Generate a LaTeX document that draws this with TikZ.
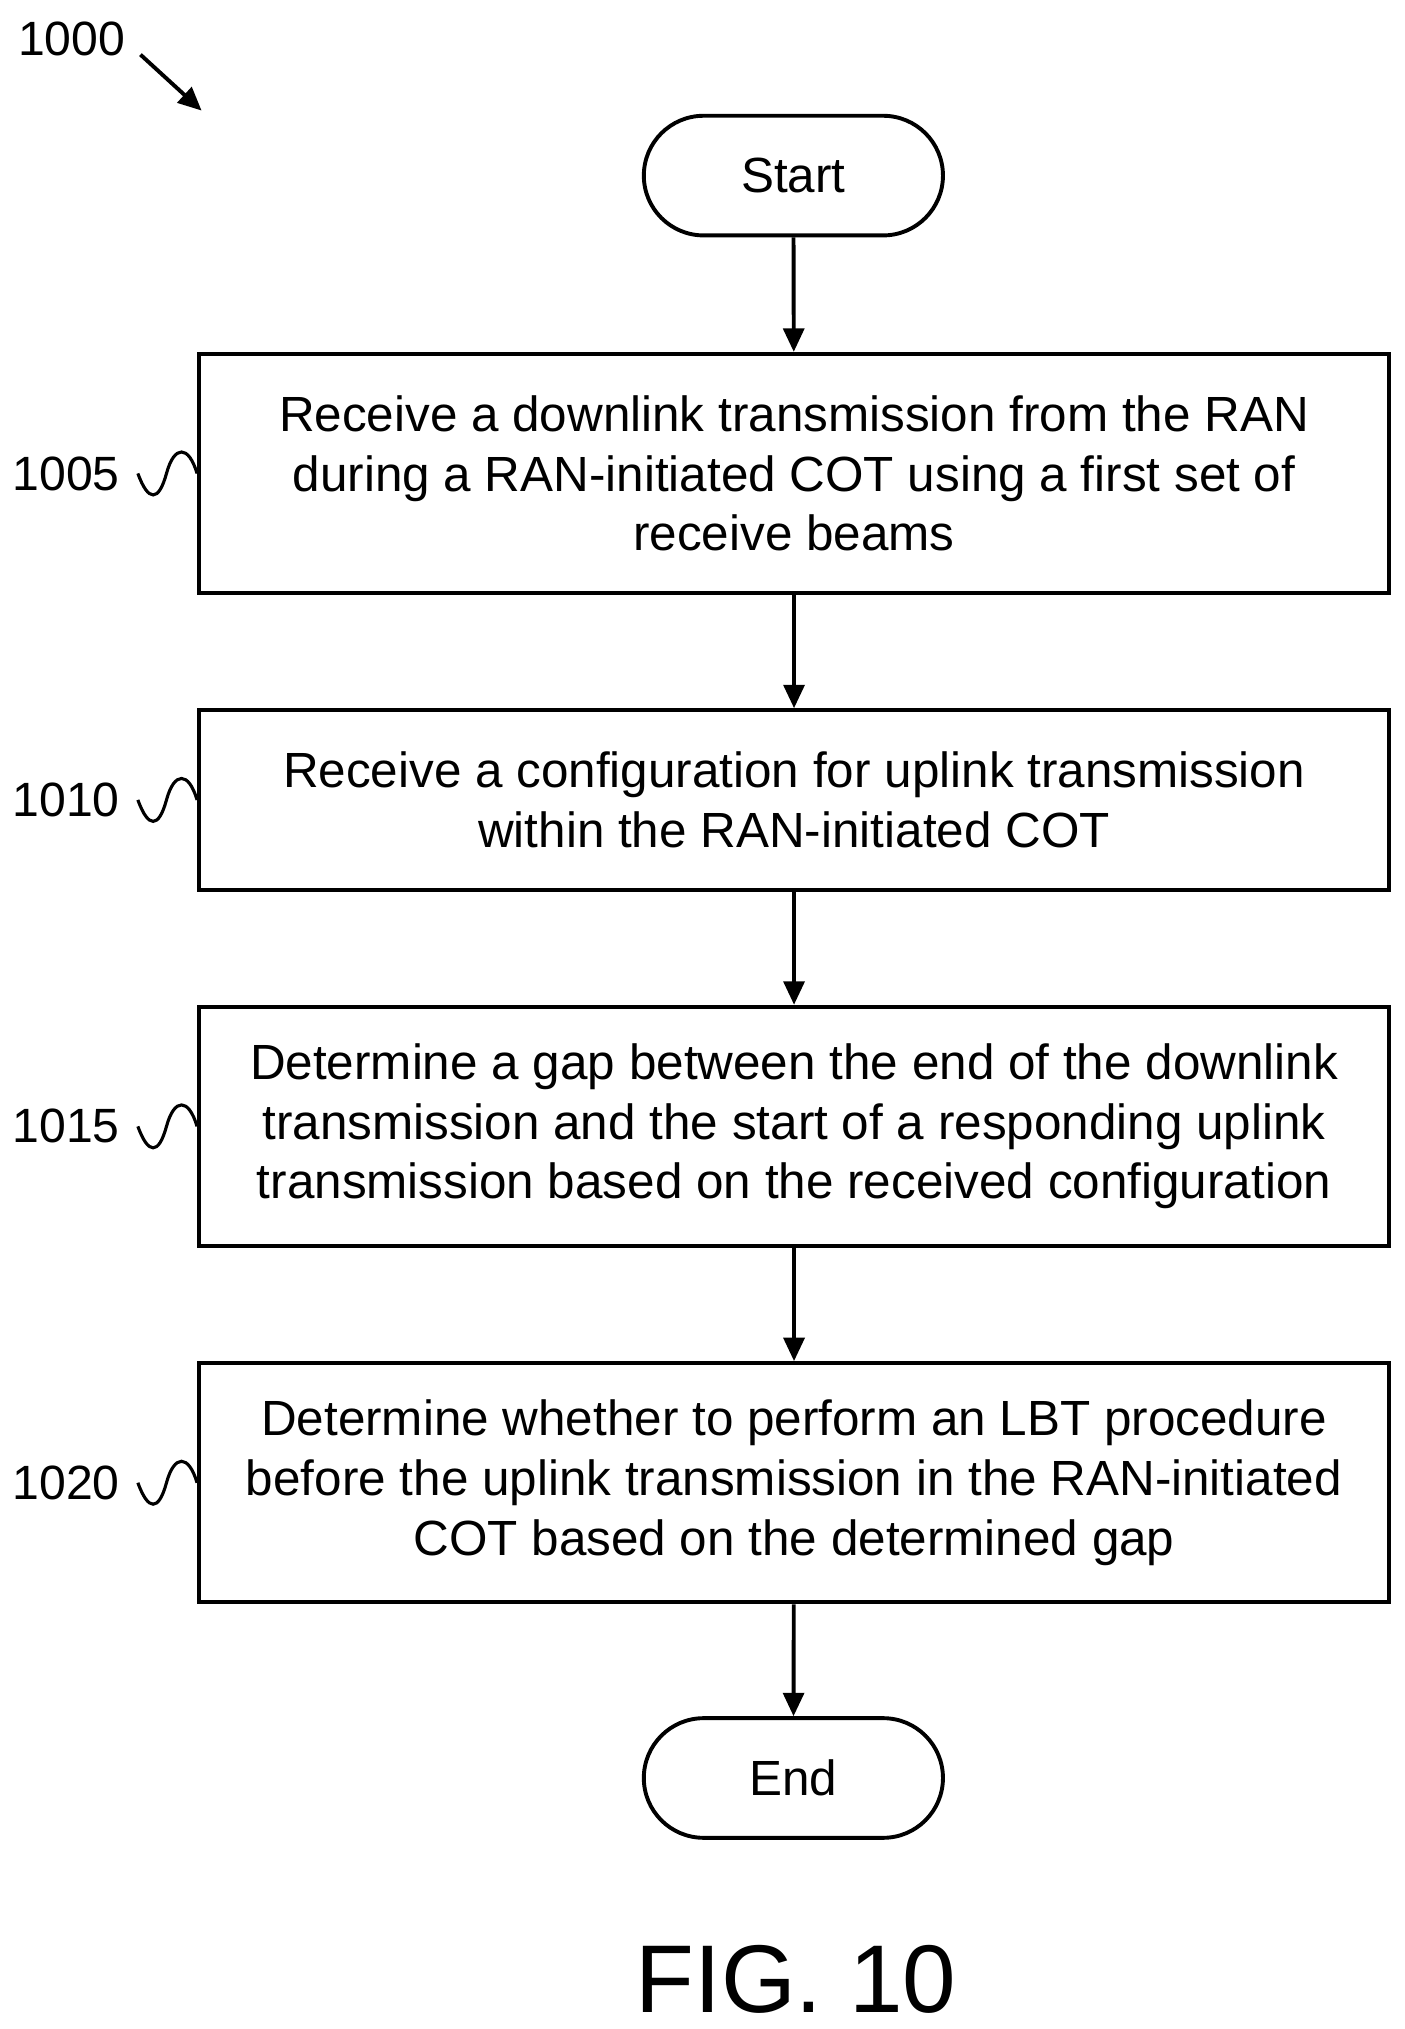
\documentclass[tikz,border=0pt]{standalone}
\usepackage{fontspec}
\setmainfont{Liberation Sans}
\usetikzlibrary{arrows.meta}
\begin{document}
\begin{tikzpicture}[x=0.5pt,y=-0.5pt,
  box/.style={draw,line width=1.5pt,minimum width=457.5pt,align=center,font=\fontsize{19}{23}\selectfont,inner sep=0pt},
  term/.style={draw,line width=1.5pt,rounded corners=23pt,minimum width=115pt,minimum height=46pt,font=\fontsize{19}{20}\selectfont},
  arr/.style={line width=1.5pt,-{Triangle[length=9pt,width=8pt]}},
  lab/.style={font=\fontsize{18.5}{20}\selectfont},
  sq/.style={line width=1.2pt}]
\useasboundingbox (0,0) rectangle (1080,1560);
\node[term] (start) at (610,135) {Start};
\node[box,minimum height=92pt] (b1) at (610.5,364) {Receive a downlink transmission from the RAN\\during a RAN-initiated COT using a first set of\\receive beams};
\node[box,minimum height=69pt] (b2) at (610.5,615) {Receive a configuration for uplink transmission\\within the RAN-initiated COT};
\node[box,minimum height=92pt] (b3) at (610.5,866) {Determine a gap between the end of the downlink\\transmission and the start of a responding uplink\\transmission based on the received configuration};
\node[box,minimum height=92pt] (b4) at (610.5,1140) {Determine whether to perform an LBT procedure\\before the uplink transmission in the RAN-initiated\\COT based on the determined gap};
\node[term] (end) at (610,1367) {End};
\draw[arr] (start) -- (b1);
\draw[arr] (b1) -- (b2);
\draw[arr] (b2) -- (b3);
\draw[arr] (b3) -- (b4);
\draw[arr] (b4) -- (end);
\node[font=\fontsize{37}{40}\selectfont] (fig) at (612,1522) {FIG. 10};
\node[lab] (l1000) at (55,30) {1000};
\coordinate (a1000) at (155,85);
\draw[arr] (108,42) -- (a1000);
\foreach \n/\y/\b in {1005/364/b1,1010/615/b2,1015/866/b3,1020/1140/b4}{
  \node[lab,anchor=east] (l\n) at (99,\y) {\n};
  \draw[sq] (106,\y) .. controls (114,\y+22) and (122,\y+22) .. (128,\y) .. controls (134,\y-22) and (145,\y-22) .. (\b.west|-0,\y);
}
\end{tikzpicture}
\end{document}
